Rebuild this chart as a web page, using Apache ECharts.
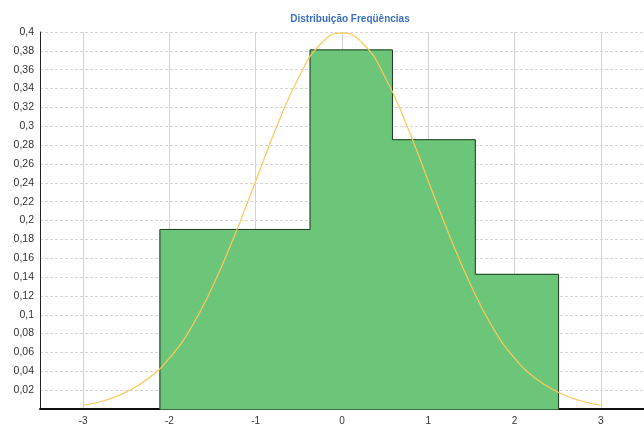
<!DOCTYPE html>
<html>
<head>
<meta charset="utf-8">
<script src="https://cdn.jsdelivr.net/npm/echarts@6/dist/echarts.min.js"></script>
<style>
  html, body { margin: 0; padding: 0; background: #ffffff; }
  #chart { width: 644px; height: 426px; }
</style>
</head>
<body>
<div id="chart"></div>
<script>
// Histogram classes: left edge, right edge, relative frequency
const binStart = [-2.11, -0.37, 0.585, 1.545];
const binEnd   = [-0.37, 0.585, 1.545, 2.51];
const freq     = [0.1905, 0.381, 0.2857, 0.1429];

// Fitted density curve, sampled points
const curveX = [-3, -2.75, -2.5, -2.25, -2, -1.75, -1.5, -1.25, -1, -0.75, -0.5, -0.25, 0,
                0.25, 0.5, 0.75, 1, 1.25, 1.5, 1.75, 2, 2.25, 2.5, 2.75, 3];
const curveY = [0.004, 0.009, 0.018, 0.032, 0.054, 0.086, 0.130, 0.183, 0.242, 0.301, 0.352, 0.387, 0.399,
                0.387, 0.352, 0.301, 0.242, 0.183, 0.130, 0.086, 0.054, 0.032, 0.018, 0.009, 0.004];

const titleText = 'Distribuição Freqüências';

const chart = echarts.init(document.getElementById('chart'), null, { renderer: 'canvas' });

const barData = binStart.map((s, i) => [s, binEnd[i], freq[i]]);

// Outer contour of the histogram
const outline = [[binStart[0], 0]];
for (let i = 0; i < freq.length; i++) {
  outline.push([binStart[i], freq[i]]);
  outline.push([binEnd[i], freq[i]]);
}
outline.push([binEnd[binEnd.length - 1], 0]);

const curveData = curveX.map((x, i) => [x, curveY[i]]);

const comma = v => String(v).replace('.', ',');
const fillGreen = '#6cc679';

chart.setOption({
  animation: false,
  backgroundColor: '#ffffff',
  title: {
    text: titleText,
    left: 345,
    textAlign: 'center',
    top: 9,
    textStyle: { color: '#3b6fc6', fontSize: 10, fontWeight: 'bold', fontFamily: 'Liberation Sans, Arial, sans-serif' }
  },
  grid: { left: 40, right: -7, top: 32, bottom: 17 },
  xAxis: {
    type: 'value',
    min: -3.5,
    max: 3.5,
    splitNumber: 7,
    axisLine: { show: true, onZero: false, lineStyle: { color: '#111', width: 2 } },
    axisTick: { show: false },
    axisLabel: {
      showMinLabel: false, showMaxLabel: false,
      color: '#333', fontSize: 10, margin: 7,
      fontFamily: 'Liberation Sans, Arial, sans-serif',
      formatter: v => comma(v)
    },
    splitLine: { show: true, lineStyle: { color: '#d2d2d2', width: 1 } }
  },
  yAxis: {
    type: 'value',
    min: 0,
    max: 0.4,
    interval: 0.02,
    axisLine: { show: true, onZero: false, lineStyle: { color: '#222', width: 1 } },
    axisTick: { show: false },
    axisLabel: {
      showMinLabel: false,
      color: '#333', fontSize: 10.5, margin: 6,
      fontFamily: 'Liberation Sans, Arial, sans-serif',
      formatter: v => comma(Math.round(v * 100) / 100)
    },
    splitLine: { show: true, lineStyle: { color: '#d6d6d6', width: 1, type: [3, 2] } }
  },
  series: [
    {
      type: 'custom',
      data: barData,
      z: 2,
      renderItem: (params, api) => {
        const p0 = api.coord([api.value(0), api.value(2)]);
        const p1 = api.coord([api.value(1), 0]);
        return {
          type: 'rect',
          shape: { x: p0[0], y: p0[1], width: p1[0] - p0[0], height: p1[1] - p0[1] },
          style: { fill: fillGreen, stroke: fillGreen, lineWidth: 1 }
        };
      }
    },
    {
      type: 'line',
      data: outline,
      z: 3,
      symbol: 'none',
      lineStyle: { color: '#1f3d22', width: 1 },
      silent: true
    },
    {
      type: 'line',
      data: curveData,
      z: 4,
      smooth: true,
      symbol: 'none',
      lineStyle: { color: '#ffc75a', width: 1.2 },
      silent: true
    }
  ]
});
</script>
</body>
</html>
